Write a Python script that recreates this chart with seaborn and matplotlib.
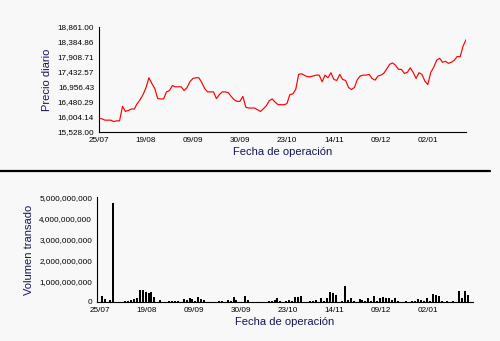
import numpy as np
import pandas as pd
import matplotlib
matplotlib.use("Agg")
import matplotlib.pyplot as plt
from matplotlib.lines import Line2D
from matplotlib.ticker import FuncFormatter
import seaborn as sns

# Daily closing price (one value per trading session)
precio = [
    15967, 15945, 15903, 15903, 15903, 15858, 15881, 15881, 16339, 16179,
    16211, 16256, 16256, 16425, 16554, 16714, 16929, 17249, 17066, 16906,
    16586, 16576, 16576, 16800, 16842, 17002, 16961, 16961, 16961, 16842,
    16938, 17130, 17227, 17249, 17249, 17098, 16906, 16800, 16800, 16800,
    16586, 16714, 16800, 16800, 16778, 16659, 16554, 16499, 16499, 16659,
    16313, 16288, 16288, 16288, 16233, 16179, 16265, 16361, 16522, 16576,
    16473, 16393, 16393, 16393, 16425, 16714, 16736, 16874, 17355, 17377,
    17323, 17281, 17281, 17307, 17332, 17332, 17121, 17332, 17249, 17409,
    17194, 17163, 17355, 17194, 17163, 16938, 16874, 16938, 17194, 17307,
    17332, 17332, 17355, 17227, 17172, 17300, 17332, 17390, 17530, 17675,
    17720, 17643, 17515, 17515, 17387, 17419, 17563, 17419, 17227, 17409,
    17355, 17140, 17034, 17419, 17579, 17804, 17868, 17739, 17771, 17707,
    17739, 17803, 17922, 17916, 18252, 18454,
]

# Traded volume per session, in millions
volumen_millones = [
    290, 130, 0, 80, 4720, 0, 0, 0, 60, 60,
    100, 130, 200, 550, 550, 470, 430, 500, 250, 0,
    110, 0, 0, 60, 60, 60, 60, 0, 120, 80,
    200, 150, 50, 240, 130, 100, 0, 0, 0, 0,
    70, 70, 0, 90, 60, 260, 80, 0, 0, 290,
    80, 0, 0, 0, 0, 0, 0, 70, 70, 110,
    190, 60, 0, 70, 100, 60, 230, 240, 300, 0,
    0, 50, 50, 100, 0, 190, 50, 200, 470, 430,
    340, 0, 60, 770, 90, 200, 50, 0, 160, 80,
    70, 170, 60, 270, 60, 190, 240, 200, 190, 80,
    190, 50, 0, 0, 50, 0, 60, 60, 130, 80,
    60, 180, 70, 380, 320, 290, 70, 0, 50, 0,
    70, 0, 540, 180, 540, 340,
]

fechas_ticks = ["25/07", "19/08", "09/09", "30/09", "23/10", "14/11", "09/12", "02/01"]
precio_ticks = [15528.00, 16004.14, 16480.29, 16956.43, 17432.57, 17908.71, 18384.86, 18861.00]
volumen_ticks = [0, 1_000_000_000, 2_000_000_000, 3_000_000_000, 4_000_000_000, 5_000_000_000]

sesiones_por_tick = 16

sns.set_style("white")
plt.rcParams["font.family"] = ["Liberation Sans", "DejaVu Sans"]

fondo = "#f8f8f8"
azul_etiqueta = "#14145a"

n = len(precio)
df = pd.DataFrame({
    "sesion": np.arange(n),
    "precio": precio,
    "volumen": np.array(volumen_millones, dtype=float) * 1e6,
})
tick_pos = np.arange(len(fechas_ticks)) * sesiones_por_tick

fig = plt.figure(figsize=(5.0, 3.41), dpi=100, facecolor=fondo)

# ---- Price panel ----
ax1 = fig.add_axes([0.198, 0.613, 0.734, 0.308])
ax1.set_facecolor(fondo)
sns.lineplot(data=df, x="sesion", y="precio", ax=ax1, color="#ff0000", linewidth=0.85)
ax1.set_xlim(0, n - 1)
ax1.set_ylim(precio_ticks[0], precio_ticks[-1])
ax1.set_yticks(precio_ticks)
ax1.yaxis.set_major_formatter(FuncFormatter(lambda v, p: f"{v:,.2f}"))
ax1.set_xticks(tick_pos)
ax1.set_xticklabels(fechas_ticks)
ax1.set_xlabel("Fecha de operación", fontsize=8, color=azul_etiqueta, labelpad=2)
ax1.set_ylabel("Precio diario", fontsize=8, color=azul_etiqueta, labelpad=4)

# ---- Volume panel ----
# Bars sit just to the right of each session's tick position
desfase = 0.58
ax2 = fig.add_axes([0.194, 0.1144, 0.752, 0.307])
ax2.set_facecolor(fondo)
sns.barplot(data=df, x="sesion", y="volumen", ax=ax2, order=list(range(n)),
            color="black", saturation=1, width=0.68, errorbar=None,
            linewidth=0)
ax2.set_xlim(-1.0 - desfase, n + 1.3 - desfase)
ax2.set_ylim(0, volumen_ticks[-1])
ax2.set_yticks(volumen_ticks)
ax2.yaxis.set_major_formatter(FuncFormatter(lambda v, p: f"{v:,.0f}"))
ax2.set_xticks(tick_pos - desfase)
ax2.set_xticklabels(fechas_ticks)
ax2.set_xlabel("Fecha de operación", fontsize=8, color=azul_etiqueta, labelpad=2)
ax2.set_ylabel("Volumen transado", fontsize=8, color=azul_etiqueta, labelpad=4)

for ax in (ax1, ax2):
    for side in ("top", "right"):
        ax.spines[side].set_visible(False)
    for side in ("left", "bottom"):
        ax.spines[side].set_color("black")
        ax.spines[side].set_linewidth(0.8)
    ax.tick_params(axis="both", which="major", direction="out", length=2.5,
                   width=0.8, color="black", labelsize=5.9, labelcolor="black", pad=1)

# Divider between the two panels
fig.add_artist(Line2D([0.0, 0.98], [0.5, 0.5], transform=fig.transFigure,
                      color="black", linewidth=1.6))

fig.savefig("out.png", dpi=100, facecolor=fondo)
